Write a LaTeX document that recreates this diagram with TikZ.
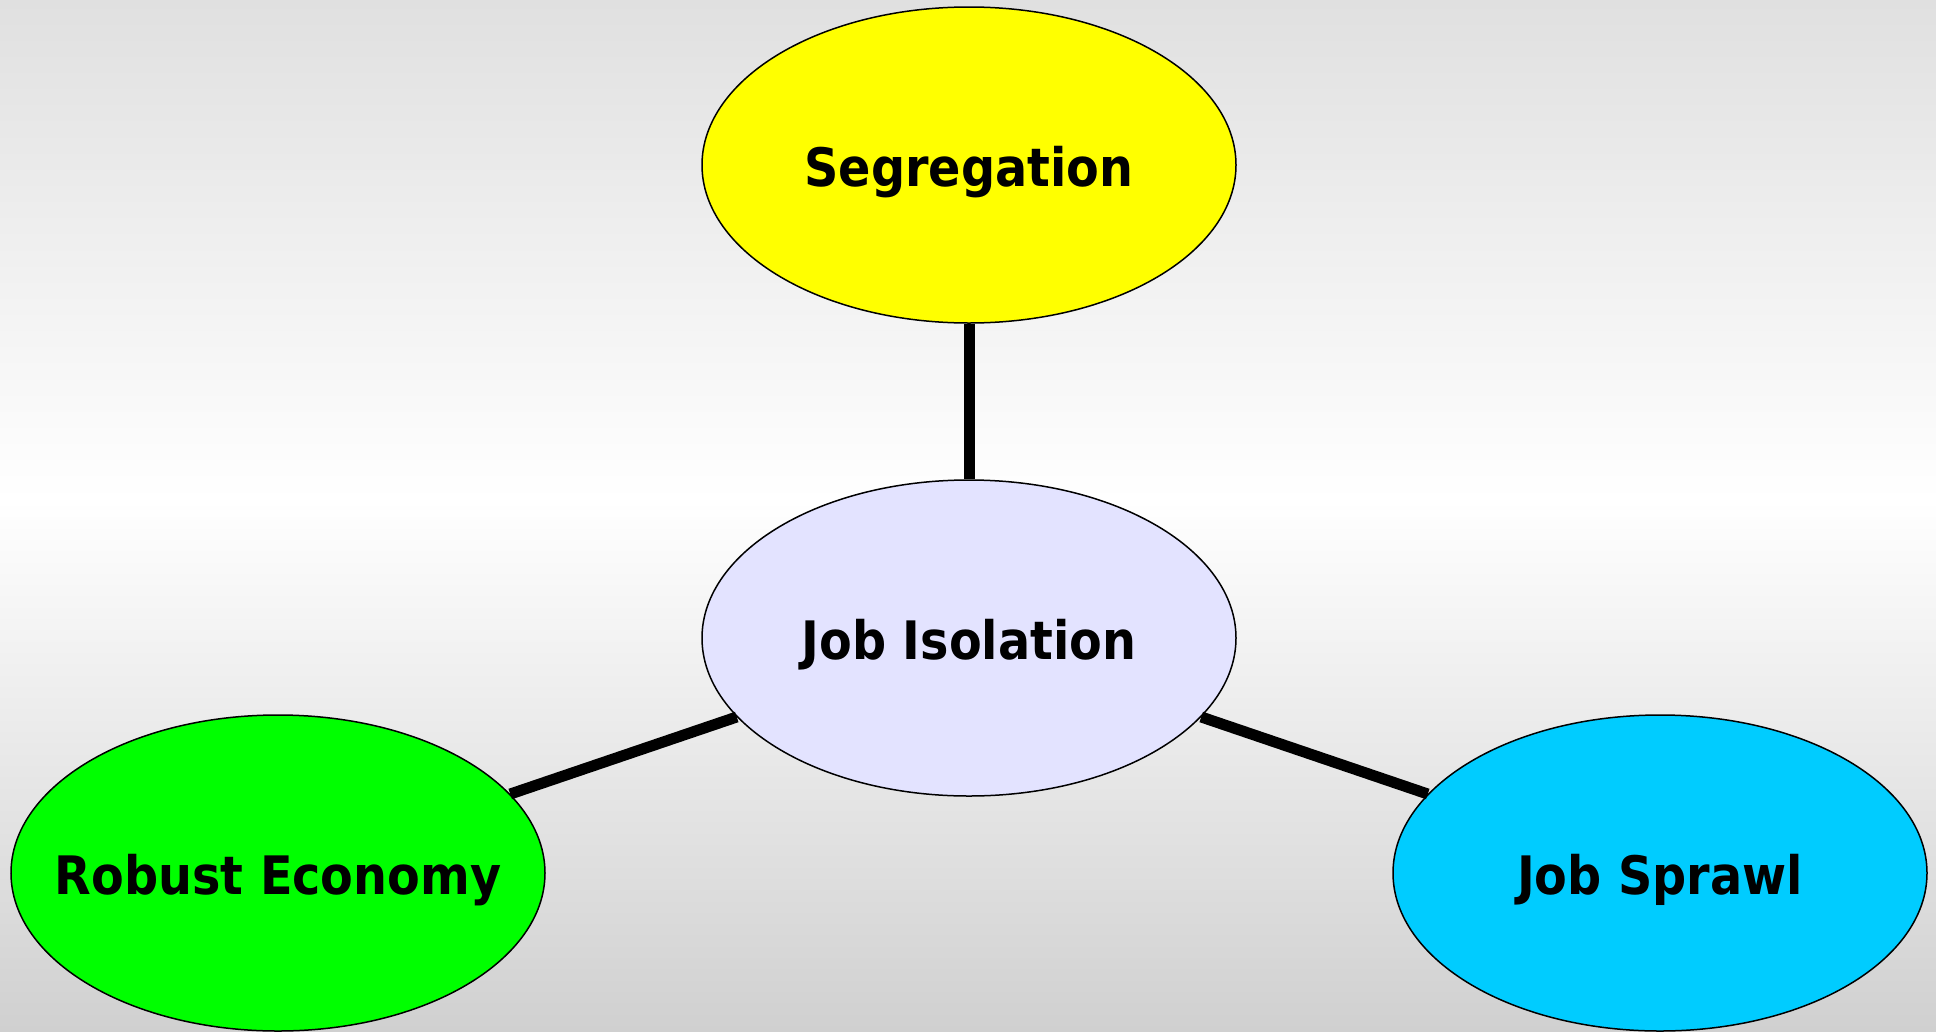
\documentclass[tikz,border=0pt]{standalone}
\usepackage{fontspec}
\setmainfont{DejaVu Sans Condensed}
\usetikzlibrary{shapes.geometric}
\definecolor{topgray}{HTML}{E0E0E0}
\definecolor{botgray}{HTML}{D0D0D0}
\definecolor{lav}{HTML}{E3E3FF}
\definecolor{cyanb}{HTML}{00CCFF}
\definecolor{yel}{HTML}{FFFF00}
\definecolor{grn}{HTML}{00FF00}
\newcommand{\btext}[1]{\makebox[0pt]{\raisebox{-21pt}[0pt][0pt]{#1}}}
\tikzset{
  bubble/.style={ellipse, draw=black, line width=1.5pt, minimum width=534pt, minimum height=316pt, inner sep=0pt,
    font=\fontsize{53}{60}\selectfont\bfseries},
  link/.style={line width=11pt, black}
}
\begin{document}
\begin{tikzpicture}[x=1pt,y=-1pt]
\useasboundingbox (0,0) rectangle (1936,1031);
\shade[top color=topgray, bottom color=white] (0,0) rectangle (1936,500);
\shade[top color=white, bottom color=botgray] (0,500) rectangle (1936,1031);
\node[bubble, fill=yel] (seg) at (969,165) {\btext{Segregation}};
\node[bubble, fill=lav] (iso) at (969,638) {\btext{Job Isolation}};
\node[bubble, fill=grn] (rob) at (278,873) {\btext{Robust Economy}};
\node[bubble, fill=cyanb] (spr) at (1660,873) {\btext{Job Sprawl}};
\draw[link] (seg) -- (iso);
\draw[link] (rob) -- (iso);
\draw[link] (spr) -- (iso);
\end{tikzpicture}
\end{document}
